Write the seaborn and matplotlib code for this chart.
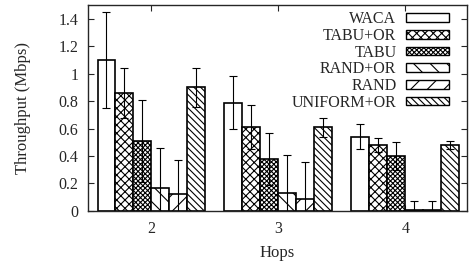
import pandas as pd
import matplotlib.pyplot as plt
import seaborn as sns
import numpy as np
from matplotlib.patches import Patch

hops = ['2', '3', '4']
schemes = ['WACA', 'TABU+OR', 'TABU', 'RAND+OR', 'RAND', 'UNIFORM+OR']
throughput = {
    'WACA':       [1.10, 0.79, 0.54],
    'TABU+OR':    [0.86, 0.61, 0.48],
    'TABU':       [0.51, 0.38, 0.40],
    'RAND+OR':    [0.17, 0.13, 0.01],
    'RAND':       [0.12, 0.09, 0.01],
    'UNIFORM+OR': [0.90, 0.61, 0.48],
}
errors = {
    'WACA':       [0.35, 0.19, 0.09],
    'TABU+OR':    [0.18, 0.16, 0.05],
    'TABU':       [0.30, 0.19, 0.10],
    'RAND+OR':    [0.29, 0.28, 0.06],
    'RAND':       [0.25, 0.27, 0.06],
    'UNIFORM+OR': [0.14, 0.07, 0.03],
}
hatches = ['', 'xxxx', 'xxxxxxx', '\\\\', '//', '\\\\\\\\\\']

rows = []
for s in schemes:
    for h, v, e in zip(hops, throughput[s], errors[s]):
        rows.append({'Hops': h, 'scheme': s, 'value': v, 'err': e})
df = pd.DataFrame(rows)

sns.set_style('ticks')
plt.rcParams['font.family'] = ['Liberation Serif', 'DejaVu Serif']
plt.rcParams['hatch.linewidth'] = 0.8

fig = plt.figure(figsize=(4.73, 2.66), dpi=100)
ax = fig.add_axes([0.186, 0.207, 0.801, 0.774])

sns.barplot(data=df, x='Hops', y='value', hue='scheme', order=hops, hue_order=schemes,
            width=0.85, color='white', edgecolor='black', linewidth=1.2,
            errorbar=None, ax=ax, legend=False)

# hatches + error bars
for i, s in enumerate(schemes):
    cont = ax.containers[i]
    for j, p in enumerate(cont.patches):
        p.set_facecolor('white')
        p.set_hatch(hatches[i])
        cx = p.get_x() + p.get_width() / 2
        ax.errorbar(cx, p.get_height(), yerr=errors[s][j], color='black',
                    lw=0.8, capsize=3, capthick=0.8)

# legend: labels right-aligned, box after text (markerfirst=False)
handles = [Patch(facecolor='white', edgecolor='black', hatch=hatches[i], lw=1.0)
           for i in range(len(schemes))]
ax.legend(handles, schemes, loc='upper right', frameon=False, markerfirst=False,
          fontsize=11.5, handlelength=2.7, handleheight=0.45, labelspacing=0.04,
          borderaxespad=0.0, handletextpad=0.6, bbox_to_anchor=(0.97, 1.0))

ax.set_xlim(-0.5, 2.484)
ax.set_ylim(0, 1.5)
ax.set_yticks([0, 0.2, 0.4, 0.6, 0.8, 1.0, 1.2, 1.4])
ax.set_yticklabels(['0', '0.2', '0.4', '0.6', '0.8', '1', '1.2', '1.4'])
ax.tick_params(direction='in', top=True, right=True, labelsize=11.5, length=4, width=0.8, pad=7)
for sp in ax.spines.values():
    sp.set_linewidth(1.0)
ax.set_xlabel('Hops', fontsize=12, labelpad=6)
ax.set_ylabel('Throughput (Mbps)', fontsize=12, labelpad=20)

fig.savefig('out.png', dpi=100)
